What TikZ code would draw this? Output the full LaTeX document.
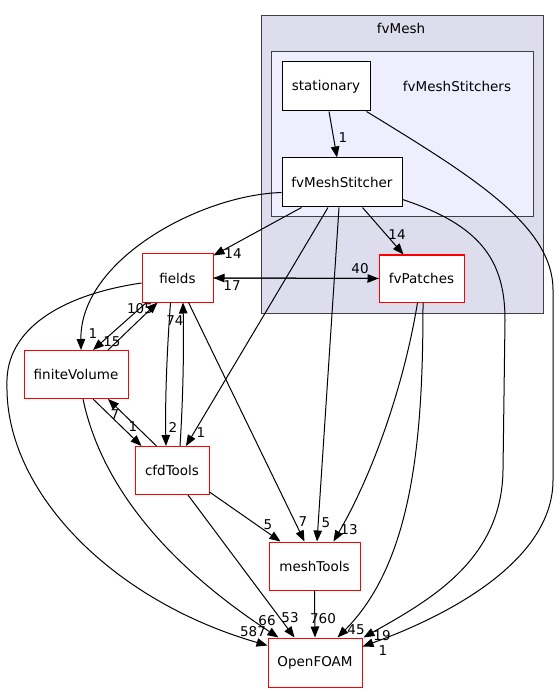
\documentclass[tikz,border=0pt]{standalone}
\usepackage{fontspec}
\setmainfont{DejaVu Sans}
\usetikzlibrary{arrows.meta,calc}
\definecolor{clout}{RGB}{221,221,238}
\definecolor{clin}{RGB}{238,238,255}
\definecolor{clborder}{RGB}{64,64,64}
\begin{document}
\begin{tikzpicture}[x=1pt,y=-1pt,
  font=\fontsize{13.5}{16}\selectfont,
  dirbox/.style={draw=red,line width=1pt,fill=white,inner sep=0pt},
  subbox/.style={draw=black,line width=1pt,fill=white,inner sep=0pt},
  dep/.style={draw=black,line width=1pt,-{Triangle[length=11pt,width=8.5pt]}},
  lbl/.style={inner sep=0pt}]
\useasboundingbox (0,0) rectangle (559,692);
\fill[white] (0,0) rectangle (559,692);
% clusters
\node[draw=clborder,line width=1pt,fill=clout,minimum width=282pt,minimum height=297pt,inner sep=0pt] (fvMesh) at (402,164.5) {};
\node[lbl] (fvMeshLbl) at (401,28) {fvMesh};
\node[draw=clborder,line width=1pt,fill=clin,minimum width=262pt,minimum height=165pt,inner sep=0pt] (stitchers) at (402,134.5) {};
\node[lbl] (stitchersLbl) at (457,86) {fvMeshStitchers};
% nodes
\node[subbox,minimum width=88pt,minimum height=49pt] (stationary) at (326,86.5) {stationary};
\node[subbox,minimum width=120pt,minimum height=49pt] (fvMeshStitcher) at (342,182.5) {fvMeshStitcher};
\node[dirbox,minimum width=85pt,minimum height=47pt] (fvPatches) at (421.5,278.5) {fvPatches};
\node[dirbox,minimum width=71pt,minimum height=48pt] (fields) at (177.5,278) {fields};
\node[dirbox,minimum width=104pt,minimum height=48pt] (finiteVolume) at (76,374.5) {finiteVolume};
\node[dirbox,minimum width=74pt,minimum height=48pt] (cfdTools) at (172,470.5) {cfdTools};
\node[dirbox,minimum width=91pt,minimum height=48pt] (meshTools) at (314.5,566) {meshTools};
\node[dirbox,minimum width=94pt,minimum height=49pt] (OpenFOAM) at (315,662.5) {OpenFOAM};
% edges
\draw[dep] ($(stationary.south)+(3,0)$) -- ($(fvMeshStitcher.north)+(-5,0)$);
\draw[dep] ($(stationary.south east)+(-4,0)$) .. controls (470,175) and (553,225) .. (553,290) -- (553,480) .. controls (553,560) and (450,615) .. ($(OpenFOAM.north east)+(0,9)$);
\draw[dep] ($(fvMeshStitcher.south west)+(20,0)$) -- ($(fields.north east)+(0,2)$);
\draw[dep] ($(fvMeshStitcher.west)+(0,10)$) .. controls (200,195) and (80,260) .. ($(finiteVolume.north)+(5,0)$);
\draw[dep] ($(fvMeshStitcher.south east)+(-40,0)$) -- ($(fvPatches.north)+(-18,0)$);
\draw[dep] ($(fvMeshStitcher.south)+(-14,0)$) -- ($(cfdTools.north)+(14,0)$);
\draw[dep] ($(fvMeshStitcher.south)+(-3,0)$) -- ($(meshTools.north)+(2.5,0)$);
\draw[dep] ($(fvMeshStitcher.east)+(0,17)$) .. controls (480,225) and (505,260) .. (505,320) -- (503,470) .. controls (502,560) and (430,600) .. ($(OpenFOAM.north east)+(1,0)$);
\draw[dep] ($(fields.south west)+(5,0)$) -- ($(finiteVolume.north)+(17,0)$);
\draw[dep] ($(finiteVolume.north)+(32,0)$) -- ($(fields.south west)+(16,0)$);
\draw[dep] ($(fields.south)+(-7,0)$) .. controls (167,350) and (165,400) .. ($(cfdTools.north)+(-6,0)$);
\draw[dep] ($(cfdTools.north)+(8,0)$) .. controls (183,400) and (184,350) .. ($(fields.south)+(5.5,0)$);
\draw[dep] ($(fields.south)+(11,0)$) -- ($(meshTools.north)+(-10,0)$);
\draw[dep] (fields.east) -- (fvPatches.west);
\draw[dep] (fvPatches.west) -- (fields.east);
\draw[dep] ($(fields.west)+(0,5)$) .. controls (60,295) and (5,330) .. (7,385) .. controls (5,490) and (110,600) .. ($(OpenFOAM.west)+(0,-17)$);
\draw[dep] ($(finiteVolume.south)+(17,0)$) -- ($(cfdTools.north west)+(7,0)$);
\draw[dep] ($(cfdTools.north west)+(22,0)$) -- ($(finiteVolume.south)+(32,0)$);
\draw[dep] ($(finiteVolume.south)+(7,0)$) .. controls (100,480) and (160,560) .. ($(OpenFOAM.north west)+(11,0)$);
\draw[dep] ($(cfdTools.south)+(16,0)$) -- ($(OpenFOAM.north west)+(27,0)$);
\draw[dep] ($(cfdTools.south east)+(0,-3)$) -- ($(meshTools.north west)+(12,0)$);
\draw[dep] (meshTools.south) -- (OpenFOAM.north);
\draw[dep] ($(fvPatches.south)+(-4,0)$) .. controls (405,380) and (375,470) .. ($(meshTools.north east)+(-27,0)$);
\draw[dep] ($(fvPatches.south)+(1.5,0)$) .. controls (423,430) and (415,560) .. ($(OpenFOAM.north east)+(-25,0)$);
% labels
\node[lbl] (l1) at (343,138) {1};
\node[lbl] (l2) at (383,651) {1};
\node[lbl] (l3) at (233,254) {14};
\node[lbl] (l4) at (93,334) {1};
\node[lbl] (l5) at (397,235) {14};
\node[lbl] (l6) at (201,433) {1};
\node[lbl] (l7) at (326,523) {5};
\node[lbl] (l8) at (382,636) {19};
\node[lbl] (l9) at (112,342) {15};
\node[lbl] (l10) at (140,309) {105};
\node[lbl] (l11) at (173,427) {2};
\node[lbl] (l12) at (175,321) {74};
\node[lbl] (l13) at (303,522) {7};
\node[lbl] (l14) at (360,269) {40};
\node[lbl] (l15) at (232,286) {17};
\node[lbl] (l16) at (253,632) {587};
\node[lbl] (l17) at (133,427) {1};
\node[lbl] (l18) at (115,415) {7};
\node[lbl] (l19) at (267,621) {66};
\node[lbl] (l20) at (290,618) {53};
\node[lbl] (l21) at (268,525) {5};
\node[lbl] (l22) at (323,619) {760};
\node[lbl] (l23) at (349,530) {13};
\node[lbl] (l24) at (356,630) {45};
\end{tikzpicture}
\end{document}
